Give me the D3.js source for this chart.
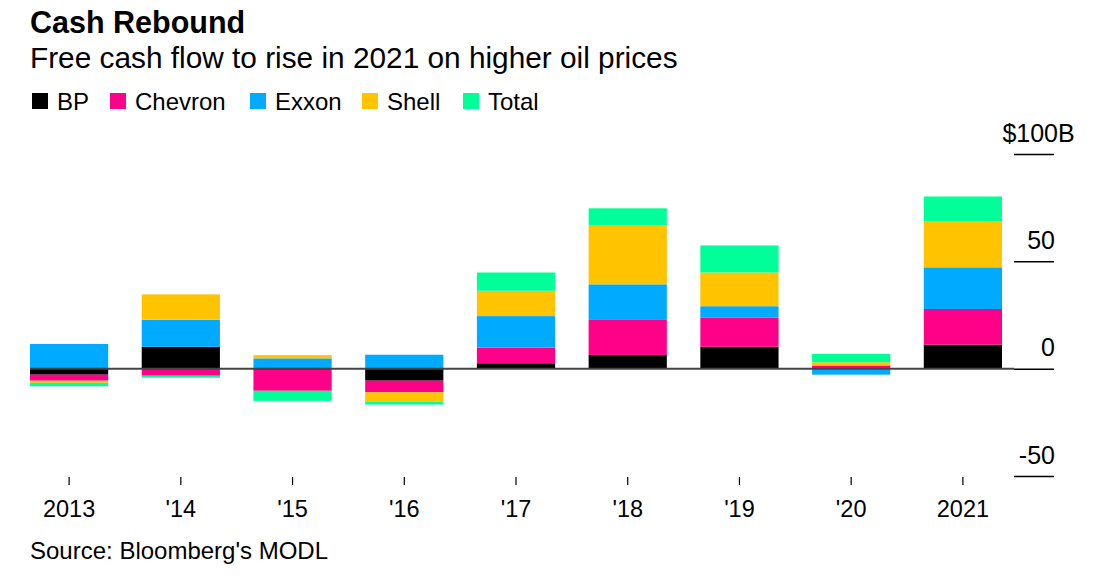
<!DOCTYPE html>
<html>
<head>
<meta charset="utf-8">
<script src="https://cdn.jsdelivr.net/npm/d3@7"></script>
<style>
  html, body { margin: 0; padding: 0; background: #fff; }
  svg { display: block; font-family: "Liberation Sans", Arial, sans-serif; }
</style>
</head>
<body>
<svg id="chart" width="1108" height="579"></svg>
<script>
// ---- data ----
const years = ["2013", "2014", "2015", "2016", "2017", "2018", "2019", "2020", "2021"];
const yearLabels = ["2013", "'14", "'15", "'16", "'17", "'18", "'19", "'20", "2021"];
const companies = ["BP", "Chevron", "Exxon", "Shell", "Total"];
const colors = ["#000000", "#ff0088", "#00aaff", "#ffc300", "#00ff98"];
const bp      = [-2.8, 10.2, -0.5, -5.6, 2.5, 6.4, 10.2, 0, 11.2];
const chevron = [-2.8, -3.3, -9.8, -5.4, 7.3, 16.6, 13.5, 1.5, 16.6];
const exxon   = [11.5, 12.6, 4.8, 6.5, 14.7, 16.3, 5.4, -2.8, 19.4];
const shell   = [-1.0, 11.8, 1.5, -4.3, 11.8, 27.6, 15.7, 1.5, 21.4];
const total   = [-1.6, -0.9, -4.7, -1.4, 8.5, 7.8, 12.6, 3.9, 11.6];
const yTicks = [-50, 0, 50, 100];
const title = "Cash Rebound";
const subtitle = "Free cash flow to rise in 2021 on higher oil prices";
const source = "Source: Bloomberg's MODL";

const seriesValues = [bp, chevron, exxon, shell, total];
const rows = years.map((y, i) => {
  const r = { year: y };
  companies.forEach((c, k) => r[c] = seriesValues[k][i]);
  return r;
});

const svg = d3.select("#chart");
const FF = "Liberation Sans, Arial, sans-serif";

// ---- scales ----
const x = d3.scaleBand().domain(years).range([30, 1002]).paddingInner(0.3).paddingOuter(0);
const y = d3.scaleLinear().domain([-50, 100]).range([476, 154]);
const color = d3.scaleOrdinal().domain(companies).range(colors);

// ---- titles ----
svg.append("text").attr("x", 30).attr("y", 33)
  .attr("font-size", 30.5).attr("font-weight", "bold").attr("fill", "#000").text(title);
svg.append("text").attr("x", 30).attr("y", 68)
  .attr("font-size", 29.8).attr("fill", "#000").text(subtitle);

// ---- legend ----
const legendX = [32, 110, 250, 362, 463];
const lg = svg.append("g");
companies.forEach((c, i) => {
  lg.append("rect").attr("x", legendX[i]).attr("y", 93).attr("width", 16).attr("height", 16)
    .attr("fill", color(c));
  lg.append("text").attr("x", legendX[i] + 25).attr("y", 110)
    .attr("font-size", 24).attr("fill", "#000").text(c);
});

// ---- bars ----
const stack = d3.stack().keys(companies).offset(d3.stackOffsetDiverging);
const stacked = stack(rows);
svg.append("g").selectAll("g").data(stacked).join("g")
  .attr("fill", d => color(d.key))
  .selectAll("rect").data(d => d).join("rect")
  .attr("x", d => x(d.data.year))
  .attr("width", x.bandwidth())
  .attr("y", d => y(Math.max(d[0], d[1])))
  .attr("height", d => Math.abs(y(d[0]) - y(d[1])));

// ---- zero line ----
svg.append("line").attr("x1", 30).attr("x2", 1014)
  .attr("y1", y(0)).attr("y2", y(0))
  .attr("stroke", "#444").attr("stroke-width", 2);

// ---- y axis (right) ----
const yAxis = svg.append("g").attr("transform", "translate(1014,0)")
  .call(d3.axisRight(y).tickValues(yTicks).tickSize(40).tickFormat(d => d === 100 ? "$100" : d));
yAxis.select(".domain").remove();
yAxis.selectAll(".tick line").attr("stroke", "#000").attr("stroke-width", 1.5);
yAxis.selectAll(".tick text")
  .attr("x", d => d === 100 ? 44 : 41).attr("dy", null).attr("y", -13)
  .attr("text-anchor", "end").attr("font-size", 25).attr("fill", "#000")
  .attr("font-family", FF);
yAxis.selectAll(".tick").filter(d => d === 100).append("text")
  .attr("x", 44).attr("y", -13).attr("font-size", 25).attr("fill", "#000")
  .attr("font-family", FF).text("B");

// ---- x axis ----
const xAxis = svg.append("g").attr("transform", "translate(0,477)")
  .call(d3.axisBottom(x).tickSize(8).tickPadding(15).tickFormat((d, i) => yearLabels[i]));
xAxis.select(".domain").remove();
xAxis.selectAll(".tick line").attr("stroke", "#000").attr("stroke-width", 1.2);
xAxis.selectAll(".tick text").attr("font-size", 23.5).attr("fill", "#000")
  .attr("font-family", FF);

// ---- source ----
svg.append("text").attr("x", 30).attr("y", 559)
  .attr("font-size", 24).attr("fill", "#000").text(source);
</script>
</body>
</html>
